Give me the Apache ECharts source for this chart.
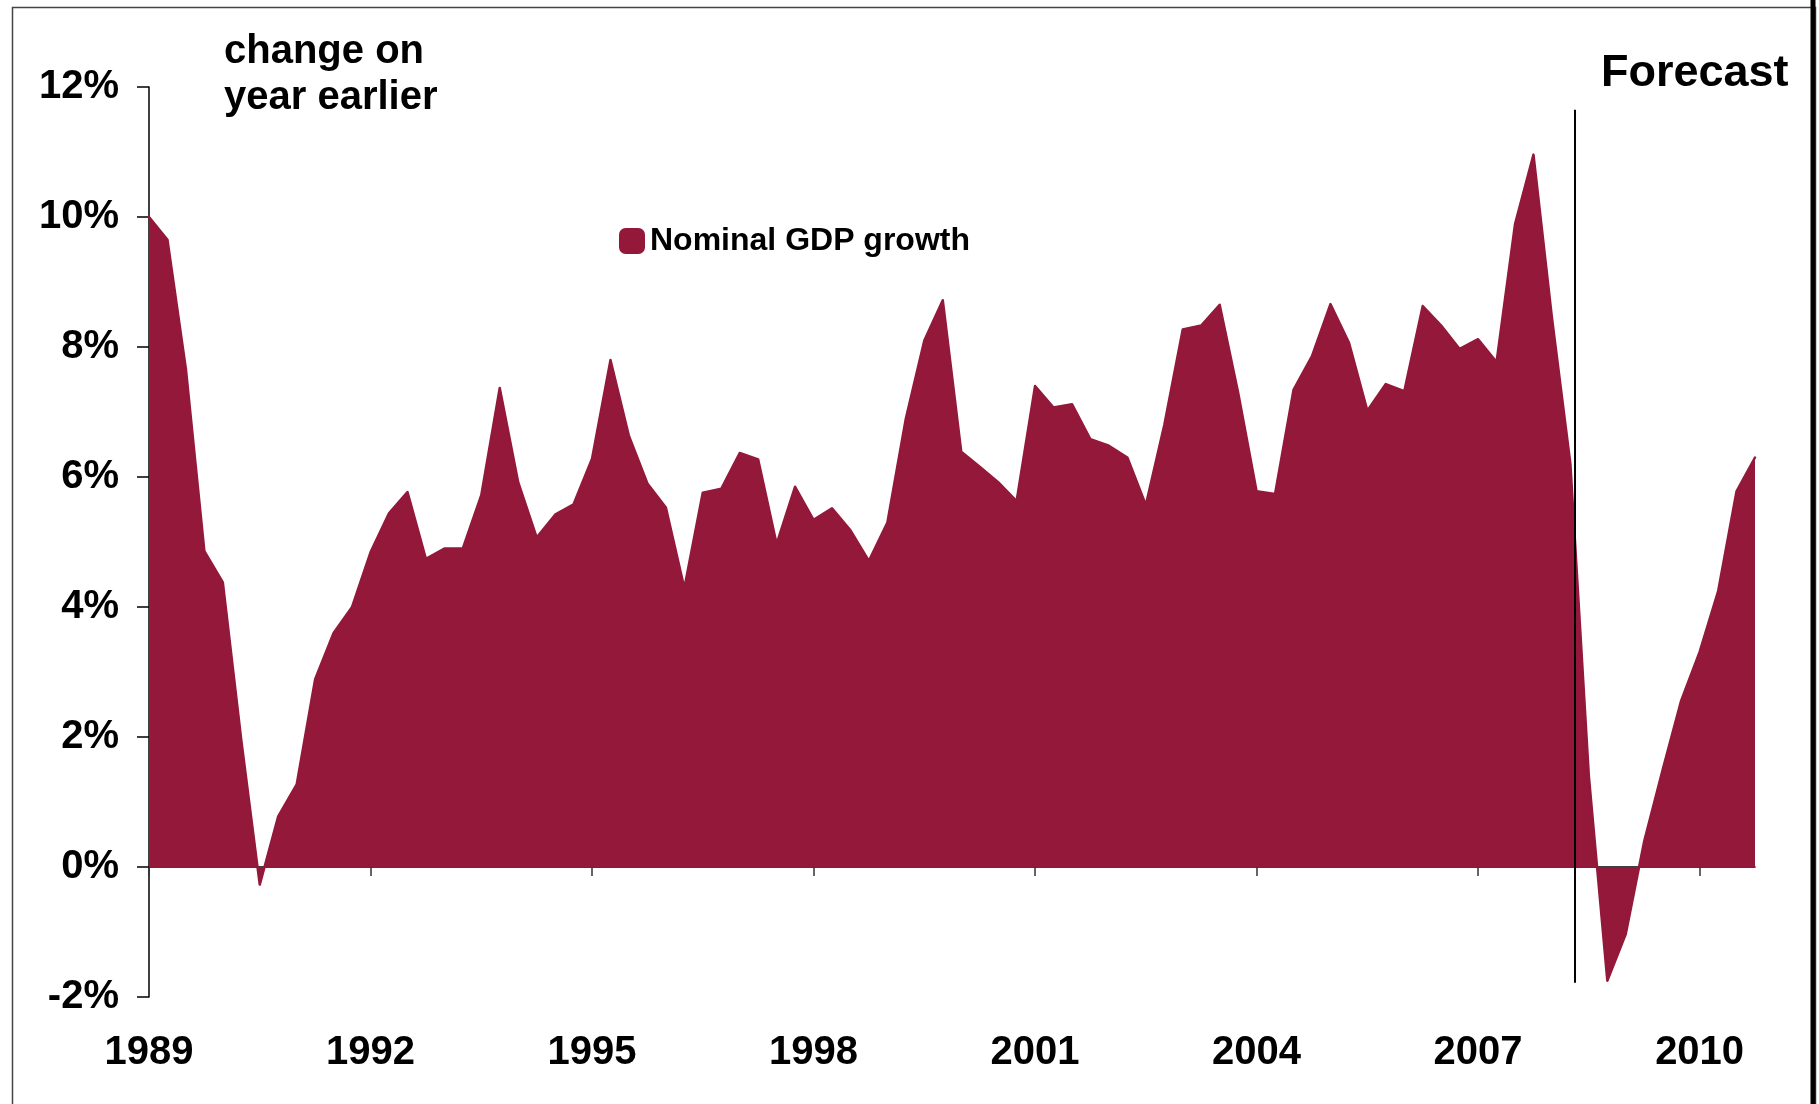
<!DOCTYPE html>
<html>
<head>
<meta charset="utf-8">
<script src="https://cdn.jsdelivr.net/npm/echarts@6/dist/echarts.min.js"></script>
<style>
html,body{margin:0;padding:0;background:#fff;}
#chart{width:1819px;height:1104px;}
</style>
</head>
<body>
<div id="chart"></div>
<script>
// ---- data ----
const years = [1989,1990,1991,1992,1993,1994,1995,1996,1997,1998,1999,2000,2001,2002,2003,2004,2005,2006,2007,2008,2009,2010];
const quarters = ['Q1','Q2','Q3','Q4'];
const categories = [];
years.forEach(y => quarters.forEach(q => categories.push(y + ' ' + q)));

const nominalGdpGrowth = [
  10.0, 9.65, 7.66, 4.86, 4.38, 1.95, -0.27, 0.78,
  1.27, 2.89, 3.6, 4.0, 4.84, 5.44, 5.77, 4.74,
  4.9, 4.9, 5.72, 7.37, 5.92, 5.07, 5.42, 5.58,
  6.28, 7.8, 6.63, 5.9, 5.53, 4.29, 5.76, 5.82,
  6.37, 6.27, 4.97, 5.85, 5.34, 5.52, 5.18, 4.71,
  5.3, 6.9, 8.1, 8.72, 6.39, 6.16, 5.92, 5.63,
  7.4, 7.07, 7.12, 6.58, 6.48, 6.3, 5.57, 6.8,
  8.27, 8.33, 8.65, 7.3, 5.78, 5.74, 7.34, 7.86,
  8.66, 8.07, 7.02, 7.43, 7.32, 8.63, 8.33, 7.97,
  8.12, 7.77, 9.89, 10.96, 8.45, 6.2, 1.4, -1.75,
  -1.03, 0.4, 1.5, 2.56, 3.31, 4.24, 5.78, 6.3
];
const seriesName = 'Nominal GDP growth';
const unitNote = 'change on\nyear earlier';
const forecastLabel = 'Forecast';
const forecastAfterIndex = 77;   // forecast divider placed just after this quarter
const yMin = -2, yMax = 12, yStep = 2;

// ---- chart ----
const FONT = '"Liberation Sans", Arial, Helvetica, sans-serif';
const RED = '#93183A';
const chart = echarts.init(document.getElementById('chart'), null, {renderer: 'canvas'});

const option = {
  animation: false,
  backgroundColor: '#ffffff',
  grid: {left: 149, right: 64, top: 87, bottom: 107, containLabel: false},
  legend: {
    data: [seriesName],
    left: 614, top: 220,
    icon: 'roundRect',
    itemWidth: 26, itemHeight: 26, itemGap: 10,
    textStyle: {fontFamily: FONT, fontWeight: 'bold', fontSize: 32, color: '#000'}
  },
  xAxis: [
    {
      type: 'category', data: categories, boundaryGap: false, position: 'bottom',
      axisLine: {show: false, onZero: false},
      axisTick: {show: false},
      axisLabel: {
        interval: 11, margin: 36,
        fontFamily: FONT, fontWeight: 'bold', fontSize: 40, color: '#000',
        formatter: v => v.slice(0, 4)
      },
      splitLine: {show: false}
    },
    {
      type: 'category', data: categories, boundaryGap: false, position: 'bottom',
      axisLine: {show: true, onZero: true, lineStyle: {color: '#000', width: 1.5}},
      axisTick: {show: true, interval: 11, length: 9, inside: false, lineStyle: {color: '#333', width: 1.5}},
      axisLabel: {show: false},
      splitLine: {show: false}
    }
  ],
  yAxis: {
    type: 'value', min: yMin, max: yMax, interval: yStep,
    axisLine: {show: true, lineStyle: {color: '#000', width: 1.5}},
    axisTick: {show: true, length: 12, inside: false, lineStyle: {color: '#000', width: 1.5}},
    axisLabel: {
      margin: 30, fontFamily: FONT, fontWeight: 'bold', fontSize: 40, color: '#000',
      formatter: v => v + '%'
    },
    splitLine: {show: false}
  },
  series: [{
    name: seriesName,
    type: 'line',
    xAxisIndex: 0,
    data: nominalGdpGrowth,
    showSymbol: false,
    symbol: 'none',
    itemStyle: {color: RED},
    lineStyle: {color: RED, width: 2.5, join: 'round', cap: 'round'},
    areaStyle: {color: RED, opacity: 1},
    z: 1
  }],
  graphic: []
};
chart.setOption(option);

// annotations placed relative to axes
const xa = chart.convertToPixel({xAxisIndex: 0}, forecastAfterIndex);
const xb = chart.convertToPixel({xAxisIndex: 0}, forecastAfterIndex + 1);
const xf = xa + (xb - xa) * 0.25;
const yTop = chart.convertToPixel({yAxisIndex: 0}, 11.65);
const yBot = chart.convertToPixel({yAxisIndex: 0}, -1.78);

chart.setOption({
  graphic: [
    {type: 'rect', left: 10, top: 5, shape: {x: 0, y: 0, width: 1803, height: 1120},
     style: {fill: 'none', stroke: '#444', lineWidth: 1.5}, silent: true, z: 0},
    {type: 'line', shape: {x1: 1813, y1: 0, x2: 1813, y2: 1104},
     style: {stroke: '#000', lineWidth: 5}, silent: true},
    {type: 'line', shape: {x1: xf, y1: yTop, x2: xf, y2: yBot},
     style: {stroke: '#000', lineWidth: 2}, silent: true, z: 10},
    {type: 'text', left: 224, top: 29,
     style: {text: unitNote, font: 'bold 40px ' + FONT, fill: '#000', lineHeight: 46}},
    {type: 'text', left: 1601, top: 51,
     style: {text: forecastLabel, font: 'bold 45px ' + FONT, fill: '#000'}}
  ]
});
</script>
</body>
</html>
